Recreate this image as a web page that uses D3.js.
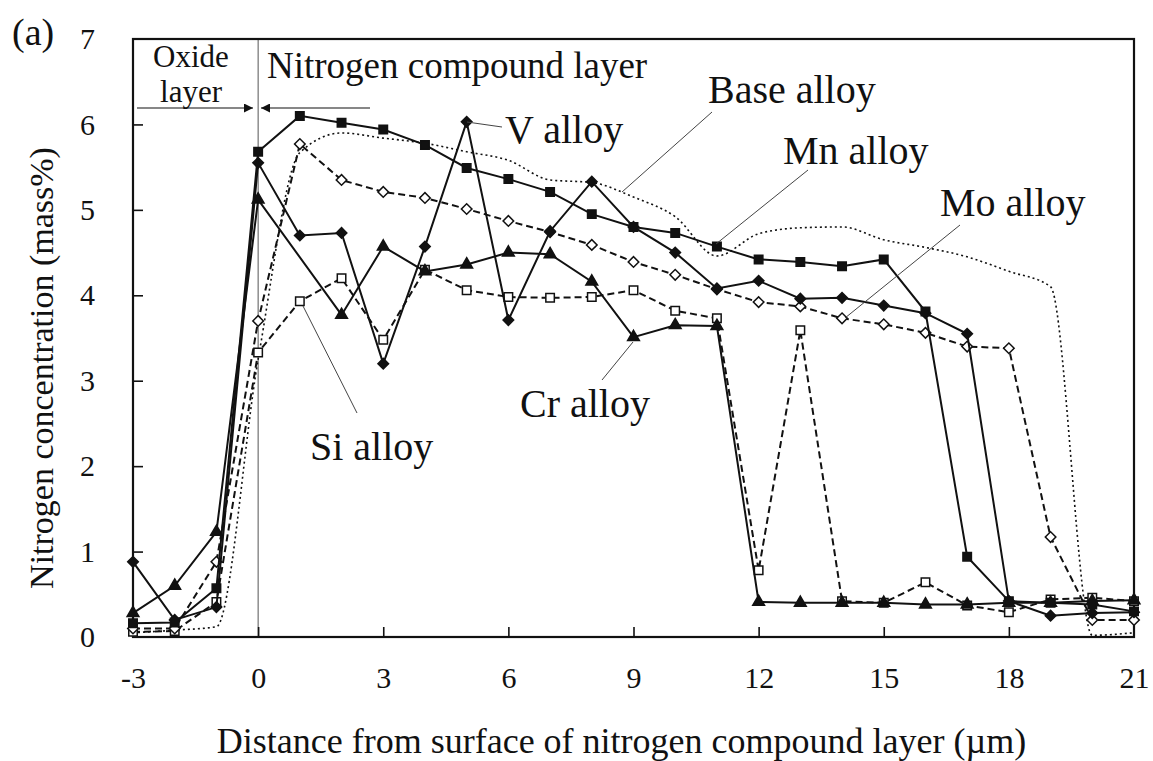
<!DOCTYPE html>
<html><head><meta charset="utf-8">
<script src="https://cdn.jsdelivr.net/npm/d3@7"></script>
<style>
body{margin:0;background:#fff}
svg{display:block}
text{font-family:"Liberation Serif","Times New Roman",serif;fill:#111}
</style>
</head><body><svg id="c" width="1153" height="761"></svg>
<script>
// ---- data ----
const distance = [-3,-2,-1,0,1,2,3,4,5,6,7,8,9,10,11,12,13,14,15,16,17,18,19,20,21];
const baseAlloy = [0.05,0.08,0.12,3.25,5.67,5.90,5.84,5.78,5.68,5.58,5.35,5.32,5.15,4.92,4.46,4.72,4.79,4.80,4.65,4.56,4.45,4.28,4.10,0.02,0.05];
const mnAlloy   = [0.16,0.17,0.57,5.68,6.10,6.02,5.94,5.76,5.49,5.36,5.21,4.95,4.80,4.73,4.57,4.42,4.39,4.34,4.42,3.81,0.94,0.42,0.40,0.38,0.30];
const vAlloy    = [0.88,0.20,0.35,5.55,4.70,4.73,3.20,4.57,6.03,3.71,4.75,5.33,4.80,4.50,4.08,4.17,3.96,3.97,3.88,3.79,3.55,0.42,0.25,0.28,0.29];
const moAlloy   = [0.10,0.10,0.88,3.70,5.77,5.35,5.21,5.14,5.01,4.87,4.74,4.59,4.39,4.24,4.07,3.92,3.87,3.73,3.66,3.56,3.40,3.38,1.17,0.20,0.20];
const crAlloy   = [0.28,0.60,1.23,5.12,null,3.77,4.57,4.28,4.36,4.50,4.48,4.16,3.51,3.65,3.64,0.41,0.40,0.40,0.40,0.38,0.38,0.40,0.40,0.42,0.43];
const siAlloy   = [0.06,0.07,0.41,3.33,3.93,4.20,3.48,4.30,4.06,3.98,3.97,3.98,4.06,3.82,3.73,0.78,3.59,0.42,0.40,0.64,0.37,0.29,0.44,0.46,0.42];
const xTicks = [-3,0,3,6,9,12,15,18,21];
const yTicks = [0,1,2,3,4,5,6,7];

const svg = d3.select("#c");
const L = 133, R = 1134, T = 39, B = 637;
const x = d3.scaleLinear().domain([-3,21]).range([L,R]);
const y = d3.scaleLinear().domain([0,7]).range([B,T]);

// vertical line at surface
svg.append("line").attr("x1",x(0)).attr("x2",x(0)).attr("y1",T).attr("y2",B)
  .attr("stroke","#555").attr("stroke-width",1);

// axes (inward ticks)
const fmt = d => String(d);
const xAxis = svg.append("g").attr("transform",`translate(0,${B})`)
  .call(d3.axisBottom(x).tickValues(xTicks).tickSize(-10).tickPadding(30).tickFormat(fmt));
const yAxis = svg.append("g").attr("transform",`translate(${L},0)`)
  .call(d3.axisLeft(y).tickValues(yTicks).tickSize(-10).tickPadding(38).tickFormat(fmt));
[xAxis,yAxis].forEach(a=>{
  a.select(".domain").remove();
  a.selectAll(".tick line").attr("stroke","#111").attr("stroke-width",1.6);
  a.selectAll(".tick text").attr("font-size",30).attr("fill","#111").style("font-family",'"Liberation Serif",serif');
});
yAxis.selectAll(".tick text").attr("text-anchor","end");
yAxis.selectAll(".tick line").filter(d=>d===0||d===7).remove();
xAxis.selectAll(".tick line").filter(d=>d===-3||d===21).remove();

// frame
svg.append("rect").attr("x",L).attr("y",T).attr("width",R-L).attr("height",B-T)
  .attr("fill","none").attr("stroke","#111").attr("stroke-width",2.2);

// series
const series = [
  {name:"Base alloy", v:baseAlloy, dash:"2,3", w:1.6, marker:null, curve:d3.curveMonotoneX},
  {name:"Si alloy", v:siAlloy, dash:"7,4", w:2, marker:"square", fill:"#fff"},
  {name:"Mo alloy", v:moAlloy, dash:"7,4", w:2, marker:"diamond", fill:"#fff"},
  {name:"Cr alloy", v:crAlloy, dash:null, w:2, marker:"triangle", fill:"#111"},
  {name:"V alloy", v:vAlloy, dash:null, w:2, marker:"diamond", fill:"#111"},
  {name:"Mn alloy", v:mnAlloy, dash:null, w:2, marker:"square", fill:"#111"}
];
const symbols = {
  square: d3.symbol().type(d3.symbolSquare).size(72),
  diamond: d3.symbol().type(d3.symbolSquare).size(56),
  triangle: d3.symbol().type(d3.symbolTriangle).size(60)
};
series.forEach(s=>{
  const pts = distance.map((d,i)=>({d, v:s.v[i]})).filter(p=>p.v!==null);
  const line = d3.line().x(p=>x(p.d)).y(p=>y(p.v)).curve(s.curve||d3.curveLinear);
  svg.append("path").datum(pts).attr("d",line).attr("fill","none")
    .attr("stroke","#111").attr("stroke-width",s.w)
    .attr("stroke-dasharray",s.dash);
  if(s.marker){
    svg.append("g").selectAll("path").data(pts).join("path")
      .attr("d",symbols[s.marker]())
      .attr("transform",p=>`translate(${x(p.d)},${y(p.v)})${s.marker==="diamond"?" rotate(45)":""}`)
      .attr("fill",s.fill).attr("stroke","#111").attr("stroke-width",1.5);
  }
});

// leader lines
const leaders = [
  [502,127,467,122],[712,112,622,192],[808,170,716,244],
  [960,225,845,318],[602,380,633,342],[357,413,303,306]
];
svg.append("g").selectAll("line").data(leaders).join("line")
  .attr("x1",d=>d[0]).attr("y1",d=>d[1]).attr("x2",d=>d[2]).attr("y2",d=>d[3])
  .attr("stroke","#444").attr("stroke-width",1);

// arrows
const defs = svg.append("defs");
defs.append("marker").attr("id","ah").attr("viewBox","0 0 10 10").attr("refX",10).attr("refY",5)
  .attr("markerWidth",12).attr("markerHeight",9).attr("markerUnits","userSpaceOnUse").attr("orient","auto")
  .append("path").attr("d","M0,0L10,5L0,10Z").attr("fill","#111");
svg.append("line").attr("x1",137).attr("y1",108).attr("x2",253).attr("y2",108)
  .attr("stroke","#111").attr("stroke-width",1.2).attr("marker-end","url(#ah)");
svg.append("line").attr("x1",370).attr("y1",108).attr("x2",261).attr("y2",108)
  .attr("stroke","#111").attr("stroke-width",1.2).attr("marker-end","url(#ah)");

// labels
function label(tx,ty,str,size,anchor){
  return svg.append("text").attr("x",tx).attr("y",ty).attr("font-size",size)
    .attr("text-anchor",anchor||"start").text(str);
}
label(12,45,"(a)",38);
label(191,67,"Oxide",31,"middle");
label(191,102,"layer",31,"middle");
label(267,78,"Nitrogen compound layer",37);
label(505,143,"V alloy",40);
label(708,103,"Base alloy",40);
label(783,164,"Mn alloy",40);
label(940,216,"Mo alloy",40);
label(520,417,"Cr alloy",40);
label(310,460,"Si alloy",40);

// axis titles
svg.append("text").attr("x",(L+R)/2-12).attr("y",753).attr("text-anchor","middle")
  .attr("font-size",36).text("Distance from surface of nitrogen compound layer (\u00b5m)");
svg.append("text").attr("transform",`translate(53,368) rotate(-90)`).attr("text-anchor","middle")
  .attr("font-size",34).text("Nitrogen concentration (mass%)");
</script></body></html>
